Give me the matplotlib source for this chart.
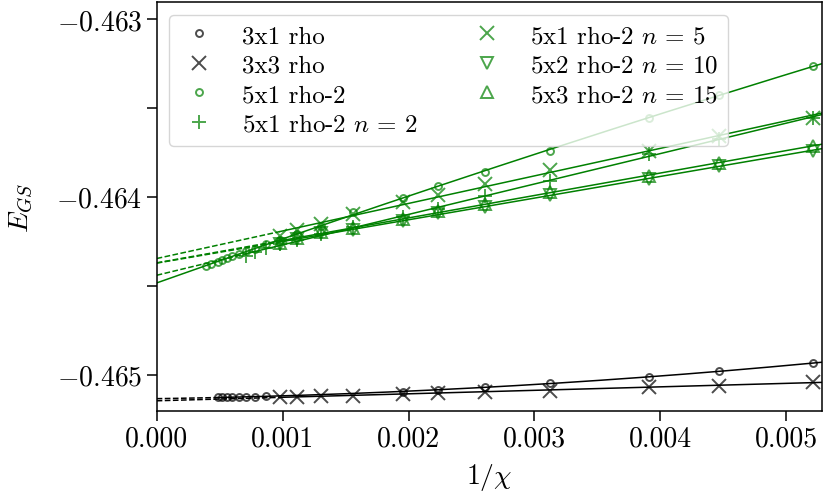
import numpy as np
import matplotlib
matplotlib.use('Agg')
import matplotlib.pyplot as plt

plt.rcParams['font.family'] = 'cmr10'
plt.rcParams['mathtext.fontset'] = 'cm'
plt.rcParams['axes.formatter.use_mathtext'] = True
plt.rcParams['axes.unicode_minus'] = True

#==============================================
# bond dimensions and ground state energies

chi_3x1 = [192, 224, 256, 320, 384, 448, 512, 1152, 1280, 1408, 1536, 1664, 1792, 1920, 2048]
e_3x1 = [-0.464937, -0.464981, -0.465012, -0.465049, -0.465071, -0.465085, -0.465100,
         -0.465122, -0.465124, -0.465125, -0.465126, -0.465127, -0.465128, -0.465129, -0.465129]

chi_3x3 = [192, 224, 256, 320, 384, 448, 512, 640, 768, 896, 1024]
e_3x3 = [-0.465040, -0.465062, -0.465071, -0.465091, -0.465100, -0.465104, -0.465109,
         -0.465118, -0.465120, -0.465124, -0.465126]

chi_5x1 = [192, 224, 256, 320, 384, 448, 512, 640, 768, 896, 1024, 1152, 1280, 1408,
           1536, 1664, 1792, 1920, 2048, 2304, 2560]
e_5x1 = [-0.463266, -0.463426, -0.463558, -0.463740, -0.463858, -0.463939, -0.464004,
         -0.464088, -0.464164, -0.464209, -0.464243, -0.464268, -0.464291, -0.464305,
         -0.464322, -0.464335, -0.464346, -0.464355, -0.464367, -0.464378, -0.464388]

chi_n2 = [192, 224, 256, 320, 384, 448, 512, 640, 768, 896, 1024, 1152, 1280, 1408]
e_n2 = [-0.463557, -0.463675, -0.463759, -0.463911, -0.463994, -0.464069, -0.464115,
        -0.464172, -0.464212, -0.464242, -0.464266, -0.464290, -0.464312, -0.464332]

chi_n5 = [192, 224, 256, 320, 384, 448, 512, 640, 768, 896, 1024]
e_n5 = [-0.463557, -0.463660, -0.463741, -0.463848, -0.463928, -0.463990, -0.464031,
        -0.464097, -0.464153, -0.464187, -0.464218]

chi_n10 = [192, 224, 256, 320, 384, 448, 512, 640, 768, 896, 1024]
e_n10 = [-0.463741, -0.463827, -0.463900, -0.463990, -0.464057, -0.464091, -0.464134,
         -0.464187, -0.464206, -0.464237, -0.464265]

chi_n15 = [192, 224, 256, 320, 384, 448, 512, 640, 768, 896, 1024]
e_n15 = [-0.463713, -0.463810, -0.463883, -0.463975, -0.464040, -0.464080, -0.464125,
         -0.464176, -0.464198, -0.464232, -0.464260]

XMAX = 0.00528

#==============================================

fig = plt.figure(figsize=(8.29, 5.02), dpi=100)
ax = fig.add_axes([0.189, 0.18, 0.802, 0.814])

# (label, chi, energy, marker, color, markersize, fit degree, solid down to zero)
series = [
    ('3x1 rho', chi_3x1, e_3x1, 'o', 'k', 5, 2, False),
    ('3x3 rho', chi_3x3, e_3x3, 'x', 'k', 10, 1, False),
    ('5x1 rho-2', chi_5x1, e_5x1, 'o', 'green', 5, 2, True),
    (r'5x1 rho-2 $n\,=\,2$', chi_n2, e_n2, '+', 'green', 10, 1, False),
    (r'5x1 rho-2 $n\,=\,5$', chi_n5, e_n5, 'x', 'green', 10, 1, False),
    (r'5x2 rho-2 $n\,=\,10$', chi_n10, e_n10, 'v', 'green', 8, 1, False),
    (r'5x3 rho-2 $n\,=\,15$', chi_n15, e_n15, '^', 'green', 8, 1, False),
]

for label, chi, e, m, c, ms, deg, full in series:
    x = 1 / np.array(chi, dtype=float)
    y = np.array(e)
    p = np.polyfit(x, y, deg)
    ax.plot(x, y, ls='none', marker=m, color=c, mfc='none', ms=ms, mew=1.4,
            alpha=0.7, label=label)
    x0 = 0.0 if full else x.min()
    xs = np.linspace(x0, XMAX, 200)
    ax.plot(xs, np.polyval(p, xs), '-', color=c, lw=1.1)
    if not full:
        xd = np.linspace(0, x.min(), 50)
        ax.plot(xd, np.polyval(p, xd), '--', color=c, lw=1.1)

ax.set_xlim(0, XMAX)
ax.set_ylim(-0.465203, -0.462904)
ax.set_xticks([0, 0.001, 0.002, 0.003, 0.004, 0.005])
ax.set_xticklabels(['0.000', '0.001', '0.002', '0.003', '0.004', '0.005'])
ax.set_yticks([-0.465, -0.4645, -0.464, -0.4635, -0.463])
ax.set_yticklabels(['$-0.465$', '', '$-0.464$', '', '$-0.463$'])
ax.tick_params(labelsize=20, length=7, width=1.1)
for s in ax.spines.values():
    s.set_linewidth(1.1)

ax.set_xlabel(r'$1/\chi$', fontsize=20, labelpad=7)
ax.set_ylabel(r'$E_{GS}$', fontsize=20, labelpad=15)
ax.legend(loc='upper left', ncol=2, fontsize=18, labelspacing=0.28,
          handlelength=1.6, handletextpad=0.9, columnspacing=2.0)

plt.savefig('out.png')
